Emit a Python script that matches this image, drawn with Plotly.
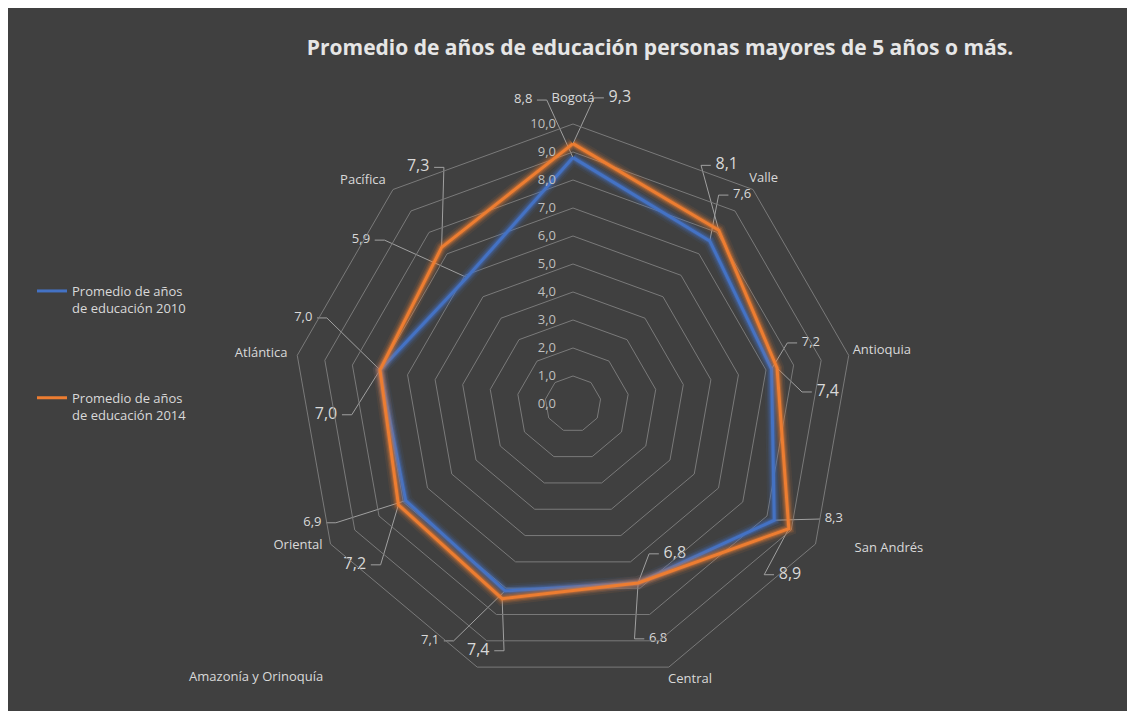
import math
import plotly.graph_objects as go

# ---------------- data ----------------
categories = ["Bogotá", "Valle", "Antioquia", "San Andrés", "Central",
              "Amazonía y Orinoquía", "Oriental", "Atlántica", "Pacífica"]
edu_2010 = [8.8, 7.6, 7.2, 8.3, 6.8, 7.1, 6.9, 7.0, 5.9]
edu_2014 = [9.3, 8.1, 7.4, 8.9, 6.8, 7.4, 7.2, 7.0, 7.3]
radial_ticks = [0, 1, 2, 3, 4, 5, 6, 7, 8, 9, 10]
name_2010 = "Promedio de años<br>de educación 2010"
name_2014 = "Promedio de años<br>de educación 2014"
title_text = "Promedio de años de educación personas mayores de 5 años o más."

# ---------------- styling / label placement (r, theta in polar units) ----------------
BG = "#404040"
GRID = "#7a7a7a"
TXT = "#d9d9d9"
BLUE = (68, 114, 196)
ORANGE = (237, 125, 49)

lab2010_r = [11.0, 9.6, 8.77, 10.18, 8.92, 9.88, 10.23, 10.11, 9.57]
lab2010_t = [-9.3, 39.0, 75.6, 113.8, 160.1, 211.1, 245.5, 287.7, 307.7]
lab2014_r = [11.06, 10.14, 9.11, 9.86, 6.47, 9.44, 9.68, 8.83, 10.1]
lab2014_t = [8.7, 32.8, 87.3, 128.2, 145.8, 201.0, 233.6, 267.5, 326.8]
cat_r = [10.9, 10.53, 11.19, 12.41, 10.7, 14.95, 11.05, 11.28, 10.96]
cat_t = [0.0, 40.3, 80.3, 114.6, 157.0, 229.2, 242.7, 279.1, 316.8]

n = len(categories)
cat_angles = [i * 360.0 / n for i in range(n)]

W, H = 1135, 711
cx, cy, PX = 565, 396, 28.0   # centre in figure pixels, pixels per unit
R = 10 * PX


def fmt(v):
    return f"{v:.1f}".replace(".", ",")


def to_xy(r, t):
    a = math.radians(t)
    return r * math.sin(a), r * math.cos(a)


def leaders(values, lr, lt, half):
    xs, ys = [], []
    for v, ca, r, t in zip(values, cat_angles, lr, lt):
        px, py = to_xy(v, ca)
        lx, ly = to_xy(r, t)
        sgn = 1 if lx < px else -1
        ex, ey = lx + sgn * (half + 0.12), ly
        sx, sy = ex + sgn * 0.35, ey
        xs += [px, sx, ex, None]
        ys += [py, sy, ey, None]
    return xs, ys


fig = go.Figure()


def add_series(values, name, col):
    r = values + values[:1]
    th = categories + categories[:1]
    for w, a in [(14, 0.08), (10, 0.14), (7.5, 0.22), (5, 0.35)]:
        fig.add_trace(go.Scatterpolar(
            r=r, theta=th, mode="lines", subplot="polar",
            line=dict(color=f"rgba({col[0]},{col[1]},{col[2]},{a})", width=w),
            showlegend=False, hoverinfo="skip"))
    fig.add_trace(go.Scatterpolar(
        r=r, theta=th, mode="lines", subplot="polar", name=name,
        legendgroup=name,
        line=dict(color=f"rgb({col[0]},{col[1]},{col[2]})", width=3)))


# leader lines (cartesian overlay in the same units as the radial axis)
for vals, lr, lt, half in [(edu_2010, lab2010_r, lab2010_t, 0.37),
                           (edu_2014, lab2014_r, lab2014_t, 0.45)]:
    xs, ys = leaders(vals, lr, lt, half)
    fig.add_trace(go.Scatter(
        x=xs, y=ys, mode="lines", line=dict(color="#a0a0a0", width=1),
        showlegend=False, hoverinfo="skip", cliponaxis=False))

add_series(edu_2010, name_2010, BLUE)
add_series(edu_2014, name_2014, ORANGE)


def add_text(rs, ts, texts, size):
    pts = [to_xy(r, t) for r, t in zip(rs, ts)]
    fig.add_trace(go.Scatter(
        x=[p[0] for p in pts], y=[p[1] for p in pts], mode="text", text=texts,
        textfont=dict(color=TXT, size=size, family="Open Sans"),
        showlegend=False, hoverinfo="skip", cliponaxis=False))


add_text(lab2010_r, lab2010_t, [fmt(v) for v in edu_2010], 13)
add_text(lab2014_r, lab2014_t, [fmt(v) for v in edu_2014], 16)
add_text(cat_r, cat_t, categories, 13)

dom_x = [(cx - R) / W, (cx + R) / W]
dom_y = [1 - (cy + R) / H, 1 - (cy - R) / H]

fig.update_layout(
    width=W, height=H,
    margin=dict(l=0, r=0, t=0, b=0),
    paper_bgcolor=BG,
    plot_bgcolor="rgba(0,0,0,0)",
    separators=",.",
    font=dict(family="Open Sans", color=TXT, size=12),
    title=dict(text=title_text, x=652 / W, y=1 - 40 / H, xanchor="center",
               yanchor="middle",
               font=dict(family="Open Sans", size=21, color="#e6e6e6", weight="bold")),
    xaxis=dict(range=[-cx / PX, (W - cx) / PX], visible=False, fixedrange=True),
    yaxis=dict(range=[-(H - cy) / PX, cy / PX], visible=False, fixedrange=True),
    polar=dict(
        domain=dict(x=dom_x, y=dom_y),
        bgcolor="rgba(0,0,0,0)",
        gridshape="linear",
        radialaxis=dict(range=[0, 10], tickvals=radial_ticks, tickformat=".1f",
                        showline=False, gridcolor=GRID, gridwidth=1, angle=90,
                        tickangle=90, side="counterclockwise",
                        ticks="outside", ticklen=12, tickcolor="rgba(0,0,0,0)",
                        tickfont=dict(color="#bfbfbf", size=13, family="Open Sans")),
        angularaxis=dict(type="category", categoryarray=categories,
                         direction="clockwise", rotation=90,
                         showticklabels=False, showgrid=False, ticks="",
                         showline=True, linecolor=GRID, linewidth=1),
    ),
    legend=dict(x=24 / W, y=1 - 268 / H, xanchor="left", yanchor="top",
                bgcolor="rgba(0,0,0,0)", valign="top", tracegroupgap=70,
                font=dict(color=TXT, size=13, family="Open Sans")),
)

fig.write_html("out.html")
